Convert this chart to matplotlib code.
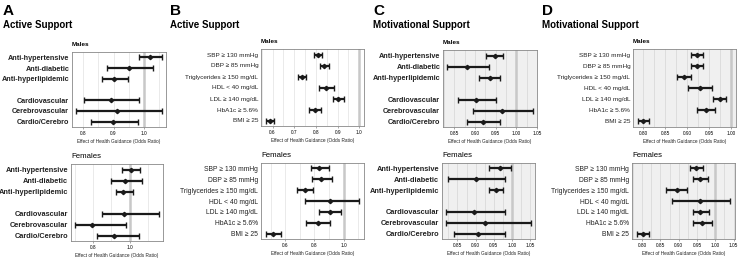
import numpy as np
import matplotlib
matplotlib.use("Agg")
import matplotlib.pyplot as plt
from matplotlib.ticker import MultipleLocator, FormatStrFormatter

plt.rcParams['font.family'] = ['Liberation Sans', 'DejaVu Sans']

# medication / disease outcomes (panels A and C)
med_labels = ['Anti-hypertensive', 'Anti-diabetic', 'Anti-hyperlipidemic',
              'Cardiovascular', 'Cerebrovascular', 'Cardio/Cerebro']
med_pos = [1, 2, 3, 5, 6, 7]

# risk factor outcomes (panels B and D)
risk_labels = ['SBP ≥ 130 mmHg', 'DBP ≥ 85 mmHg', 'Triglycerides ≥ 150 mg/dL',
               'HDL < 40 mg/dL', 'LDL ≥ 140 mg/dL', 'HbA1c ≥ 5.6%', 'BMI ≥ 25']
risk_pos = [1, 2, 3, 4, 5, 6, 7]

# A: active support
a_m_or = [1.021, 0.951, 0.903, 0.892, 0.912, 0.899]
a_m_lo = [0.984, 0.880, 0.861, 0.802, 0.778, 0.825]
a_m_hi = [1.058, 1.031, 0.947, 0.985, 1.058, 0.979]
a_f_or = [1.005, 0.975, 0.966, 0.970, 0.795, 0.914]
a_f_lo = [0.959, 0.898, 0.923, 0.848, 0.702, 0.820]
a_f_hi = [1.054, 1.066, 1.016, 1.159, 0.980, 1.048]

# B: active support
b_m_or = [0.809, 0.837, 0.735, 0.848, 0.903, 0.795, 0.588]
b_m_lo = [0.789, 0.817, 0.717, 0.815, 0.877, 0.769, 0.568]
b_m_hi = [0.829, 0.858, 0.754, 0.883, 0.931, 0.823, 0.608]
b_f_or = [0.833, 0.849, 0.733, 0.910, 0.910, 0.826, 0.519]
b_f_lo = [0.774, 0.783, 0.679, 0.738, 0.831, 0.745, 0.467]
b_f_hi = [0.898, 0.921, 0.794, 1.108, 0.984, 0.910, 0.571]

# C: motivational support
c_m_or = [0.948, 0.881, 0.936, 0.903, 0.966, 0.920]
c_m_lo = [0.927, 0.833, 0.909, 0.859, 0.896, 0.880]
c_m_hi = [0.969, 0.934, 0.961, 0.950, 1.040, 0.960]
c_f_or = [0.968, 0.900, 0.955, 0.896, 0.925, 0.907]
c_f_lo = [0.937, 0.825, 0.937, 0.819, 0.819, 0.841]
c_f_hi = [0.997, 0.982, 0.975, 0.982, 1.052, 0.981]

# D: motivational support
d_m_or = [0.922, 0.922, 0.892, 0.929, 0.975, 0.942, 0.801]
d_m_lo = [0.908, 0.908, 0.877, 0.903, 0.959, 0.923, 0.788]
d_m_hi = [0.937, 0.937, 0.908, 0.957, 0.989, 0.962, 0.814]
d_f_or = [0.948, 0.958, 0.894, 0.959, 0.959, 0.964, 0.801]
d_f_lo = [0.932, 0.938, 0.866, 0.881, 0.938, 0.938, 0.785]
d_f_hi = [0.965, 0.979, 0.922, 1.041, 0.982, 0.990, 0.819]

W, H = 740, 262
fig = plt.figure(figsize=(W / 100, H / 100), dpi=100)


def rect(x0, y0, x1, y1):
    return [x0 / W, 1 - y1 / H, (x1 - x0) / W, (y1 - y0) / H]


def forest(box, labels, pos, est, lo, hi, title, male, bold, grey_bg, major, fmt):
    ax = fig.add_axes(rect(*box))
    est, lo, hi = np.array(est), np.array(lo), np.array(hi)
    xmin = min(lo.min(), 1.0)
    xmax = max(hi.max(), 1.0)
    pad = (xmax - xmin) * 0.05
    ax.set_xlim(xmin - pad, xmax + pad)
    ax.set_ylim(7.5, 0.5)
    ax.set_facecolor('#f0f0f0' if grey_bg else 'white')
    ax.xaxis.set_major_locator(MultipleLocator(major))
    ax.xaxis.set_minor_locator(MultipleLocator(major / 2))
    ax.xaxis.set_major_formatter(FormatStrFormatter(fmt))
    gc = '#dadada' if grey_bg else '#e6e6e6'
    ax.grid(True, axis='x', which='both', color=gc, lw=0.6)
    ax.set_axisbelow(True)
    ax.axvline(1.0, color='#c8c8c8', lw=1.8, zorder=1)
    ax.errorbar(est, pos, xerr=[est - lo, hi - est], fmt='D', color='#1a1a1a',
                ms=2.2, elinewidth=1.6, capsize=2.3, capthick=1.0, zorder=3)
    ax.set_yticks(pos)
    if bold:
        fs_lab = 5.2 if male else 5.35
    else:
        fs_lab = 4.6 if male else 4.9
    ax.set_yticklabels(labels, fontsize=fs_lab,
                       fontweight='bold' if bold else 'normal', color='#222222')
    ax.tick_params(axis='y', length=0, pad=2)
    ax.tick_params(axis='x', which='major', labelsize=3.4, length=1.5,
                   width=0.4, color='#666666', pad=1.5)
    ax.tick_params(axis='x', which='minor', length=0)
    for s in ax.spines.values():
        s.set_color('#888888')
        s.set_linewidth(0.6)
    ax.set_xlabel('Effect of Health Guidance (Odds Ratio)', fontsize=3.4,
                  labelpad=2, color='#222222')
    ax.set_title(title, loc='left', fontsize=4.6 if male else 5.6,
                 fontweight='bold' if male else 'normal', pad=4)
    return ax


forest((72, 52, 166, 127), med_labels, med_pos, a_m_or, a_m_lo, a_m_hi,
       'Males', True, True, False, 0.1, '%.1f')
forest((71, 164, 163, 241), med_labels, med_pos, a_f_or, a_f_lo, a_f_hi,
       'Females', False, True, False, 0.2, '%.1f')
forest((261, 49, 364, 126), risk_labels, risk_pos, b_m_or, b_m_lo, b_m_hi,
       'Males', True, False, False, 0.1, '%.1f')
forest((261, 163, 364, 239), risk_labels, risk_pos, b_f_or, b_f_lo, b_f_hi,
       'Females', False, False, False, 0.2, '%.1f')
forest((443, 50, 537, 127), med_labels, med_pos, c_m_or, c_m_lo, c_m_hi,
       'Males', True, True, True, 0.05, '%.2f')
forest((442, 163, 535, 239), med_labels, med_pos, c_f_or, c_f_lo, c_f_hi,
       'Females', False, True, True, 0.05, '%.2f')
forest((633, 49, 736, 127), risk_labels, risk_pos, d_m_or, d_m_lo, d_m_hi,
       'Males', True, False, True, 0.05, '%.2f')
forest((632, 163, 735, 239), risk_labels, risk_pos, d_f_or, d_f_lo, d_f_hi,
       'Females', False, False, True, 0.05, '%.2f')

letters = ['A', 'B', 'C', 'D']
titles = ['Active Support', 'Active Support', 'Motivational Support', 'Motivational Support']
letter_x = [3, 170, 373, 542]
for lx, let, t in zip(letter_x, letters, titles):
    fig.text(lx / W, 1 - 4 / H, let, fontsize=11, fontweight='bold', va='top')
    fig.text(lx / W, 1 - 20 / H, t, fontsize=7, fontweight='bold', va='top')

fig.savefig('out.png', dpi=100)
